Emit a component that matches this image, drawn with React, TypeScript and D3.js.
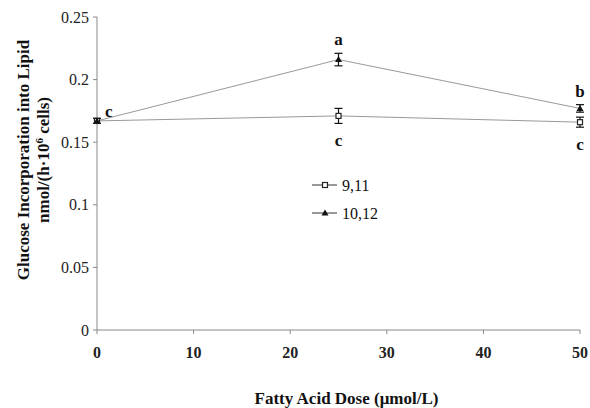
import * as d3 from 'd3';

const doses = [0, 25, 50];
const seriesNames = ['9,11', '10,12'];
const values911 = [0.167, 0.171, 0.166];
const errors911 = [0.002, 0.006, 0.004];
const values1012 = [0.167, 0.216, 0.177];
const errors1012 = [0.002, 0.005, 0.003];
const xTicks = [0, 10, 20, 30, 40, 50];
const yTicks = [0, 0.05, 0.1, 0.15, 0.2, 0.25];
// significance letters: [series index, dose index, letter, side]
const letters: [number, number, string, string][] = [
  [1, 0, 'c', 'right'],
  [1, 1, 'a', 'above'],
  [0, 1, 'c', 'below'],
  [1, 2, 'b', 'above'],
  [0, 2, 'c', 'below'],
];

const width = 590;
const height = 408;
const margins = { top: 17, right: 10, bottom: 78, left: 97 };
const font = "'Liberation Serif', 'Times New Roman', Times, serif";

const App = () => {
  const xScale = d3
    .scaleLinear()
    .domain([0, 50])
    .range([margins.left, width - margins.right]);
  const yScale = d3
    .scaleLinear()
    .domain([0, 0.25])
    .range([height - margins.bottom, margins.top]);

  const series = [
    { name: seriesNames[0], values: values911, errors: errors911 },
    { name: seriesNames[1], values: values1012, errors: errors1012 },
  ];

  const line = d3
    .line<number>()
    .x((_, i) => xScale(doses[i]))
    .y(d => yScale(d));

  const square = (cx: number, cy: number) => (
    <rect x={cx - 2.5} y={cy - 2.5} width={5} height={5} fill="#fff" stroke="#222" strokeWidth={1.2} />
  );
  const triangle = (cx: number, cy: number) => (
    <path d={`M${cx},${cy - 3.5}L${cx + 3.5},${cy + 2.5}L${cx - 3.5},${cy + 2.5}Z`} fill="#111" />
  );
  const marker = (s: number, cx: number, cy: number) => (s === 0 ? square(cx, cy) : triangle(cx, cy));

  const y0 = yScale(0);
  const legendX = 312;
  const legendY = [185, 213];

  return (
    <svg
      width={width}
      height={height}
      viewBox={`0 0 ${width} ${height}`}
      style={{ position: 'absolute', left: 0, top: 0, background: '#fff', fontFamily: font }}
    >
      {/* axes */}
      <line x1={margins.left} x2={margins.left} y1={yScale(0.25)} y2={y0} stroke="#888" />
      <line x1={margins.left} x2={xScale(50)} y1={y0} y2={y0} stroke="#888" />
      {yTicks.map(t => (
        <g key={t}>
          <line x1={margins.left - 4} x2={margins.left} y1={yScale(t)} y2={yScale(t)} stroke="#888" />
          <text x={margins.left - 8} y={yScale(t)} dy="0.35em" textAnchor="end" fontSize={16} fill="#222">
            {d3.format('~g')(t)}
          </text>
        </g>
      ))}
      {xTicks.map(t => (
        <g key={t}>
          <line x1={xScale(t)} x2={xScale(t)} y1={y0} y2={y0 + 4} stroke="#888" />
          <text x={xScale(t)} y={y0 + 28} textAnchor="middle" fontSize={16} fontWeight="bold" fill="#222">
            {t}
          </text>
        </g>
      ))}
      <text x={(xScale(0) + xScale(50)) / 2 + 8} y={404} textAnchor="middle" fontSize={17} fontWeight="bold" fill="#111">
        Fatty Acid Dose (μmol/L)
      </text>
      <g transform="translate(29, 160) rotate(-90)" fontSize={17} fontWeight="bold" fill="#111" textAnchor="middle">
        <text x={0} y={0}>Glucose Incorporation into Lipid</text>
        <text x={0} y={20}>
          nmol/(h
          <tspan>·</tspan>10<tspan fontSize={11} dy={-6}>6</tspan>
          <tspan dy={6}> cells)</tspan>
        </text>
      </g>

      {/* lines */}
      {series.map(s => (
        <path key={s.name} d={line(s.values) || ''} fill="none" stroke="#999" strokeWidth={1} />
      ))}
      {/* error bars */}
      {series.map((s, si) =>
        s.values.map((v, i) => {
          const x = xScale(doses[i]);
          const top = yScale(v + s.errors[i]);
          const bot = yScale(v - s.errors[i]);
          return (
            <g key={`${si}-${i}`} stroke="#111" strokeWidth={1.2}>
              <line x1={x} x2={x} y1={top} y2={bot} />
              <line x1={x - 4} x2={x + 4} y1={top} y2={top} />
              <line x1={x - 4} x2={x + 4} y1={bot} y2={bot} />
            </g>
          );
        })
      )}
      {/* markers */}
      {series.map((s, si) =>
        s.values.map((v, i) => <g key={`m${si}-${i}`}>{marker(si, xScale(doses[i]), yScale(v))}</g>)
      )}
      {/* letters */}
      {letters.map(([si, di, letter, side], k) => {
        const s = series[si];
        const x = xScale(doses[di]);
        const v = s.values[di];
        let lx = x;
        let ly = yScale(v);
        if (side === 'above') ly = yScale(v + s.errors[di]) - 8;
        if (side === 'below') ly = yScale(v - s.errors[di]) + 23;
        if (side === 'right') {
          lx = x + 8;
          ly = ly - 4;
        }
        return (
          <text key={k} x={lx} y={ly} textAnchor={side === 'right' ? 'start' : 'middle'} fontSize={17} fontWeight="bold" fill="#111">
            {letter}
          </text>
        );
      })}
      {/* legend */}
      {series.map((s, si) => (
        <g key={`l${si}`}>
          <line x1={legendX} x2={legendX + 25} y1={legendY[si]} y2={legendY[si]} stroke="#333" />
          {marker(si, legendX + 13, legendY[si])}
          <text x={legendX + 30} y={legendY[si]} dy="0.35em" fontSize={16} fill="#111">
            {s.name}
          </text>
        </g>
      ))}
    </svg>
  );
};

export default App;
